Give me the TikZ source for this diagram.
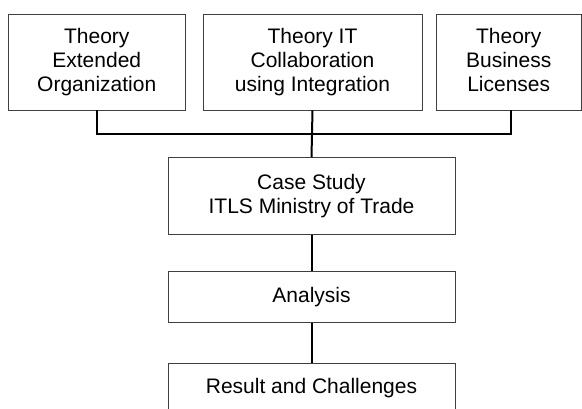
\documentclass[tikz,border=0pt]{standalone}
\usepackage{fontspec}
\setmainfont{Liberation Sans}
\begin{document}
\begin{tikzpicture}[x=1pt,y=-1pt,
  box/.style={draw=black!75, line width=0.9pt, fill=white, inner sep=0pt,
    align=center, font=\fontsize{21}{24}\selectfont},
  link/.style={draw=black, line width=2pt}]
\useasboundingbox (0,0) rectangle (582,409);
\clip (0,0) rectangle (582,409);
\fill[white] (0,0) rectangle (582,409);

% theory boxes
\node[box, minimum width=176.5pt, minimum height=96pt] (ext) at (96.75,62)
  {Theory\\Extended\\Organization};
\node[box, minimum width=219pt, minimum height=96pt] (itc) at (312.5,62)
  {Theory IT\\Collaboration\\using Integration};
\node[box, minimum width=145pt, minimum height=96pt] (bus) at (508.75,62)
  {Theory\\Business\\Licenses\vphantom{g}};

% process boxes
\node[box, minimum width=287pt, minimum height=76.6pt] (case) at (311.5,196)
  {Case Study\\ITLS Ministry of Trade};
\node[box, minimum width=287pt, minimum height=50.6pt] (ana) at (311.5,297)
  {Analysis};
\node[box, minimum width=287pt, minimum height=50pt] (res) at (311.5,388)
  {Result and Challenges};

% connectors
\coordinate (bar) at (0,134);
\draw[link] (ext.south) -- (ext.south |- bar) -- ([xshift=2pt]bus.south |- bar)
  -- ([xshift=2pt]bus.south);
\draw[link] (itc.south) -- (case.north);
\draw[link] (case.south) -- (ana.north);
\draw[link] (ana.south) -- (res.north);
\end{tikzpicture}
\end{document}
